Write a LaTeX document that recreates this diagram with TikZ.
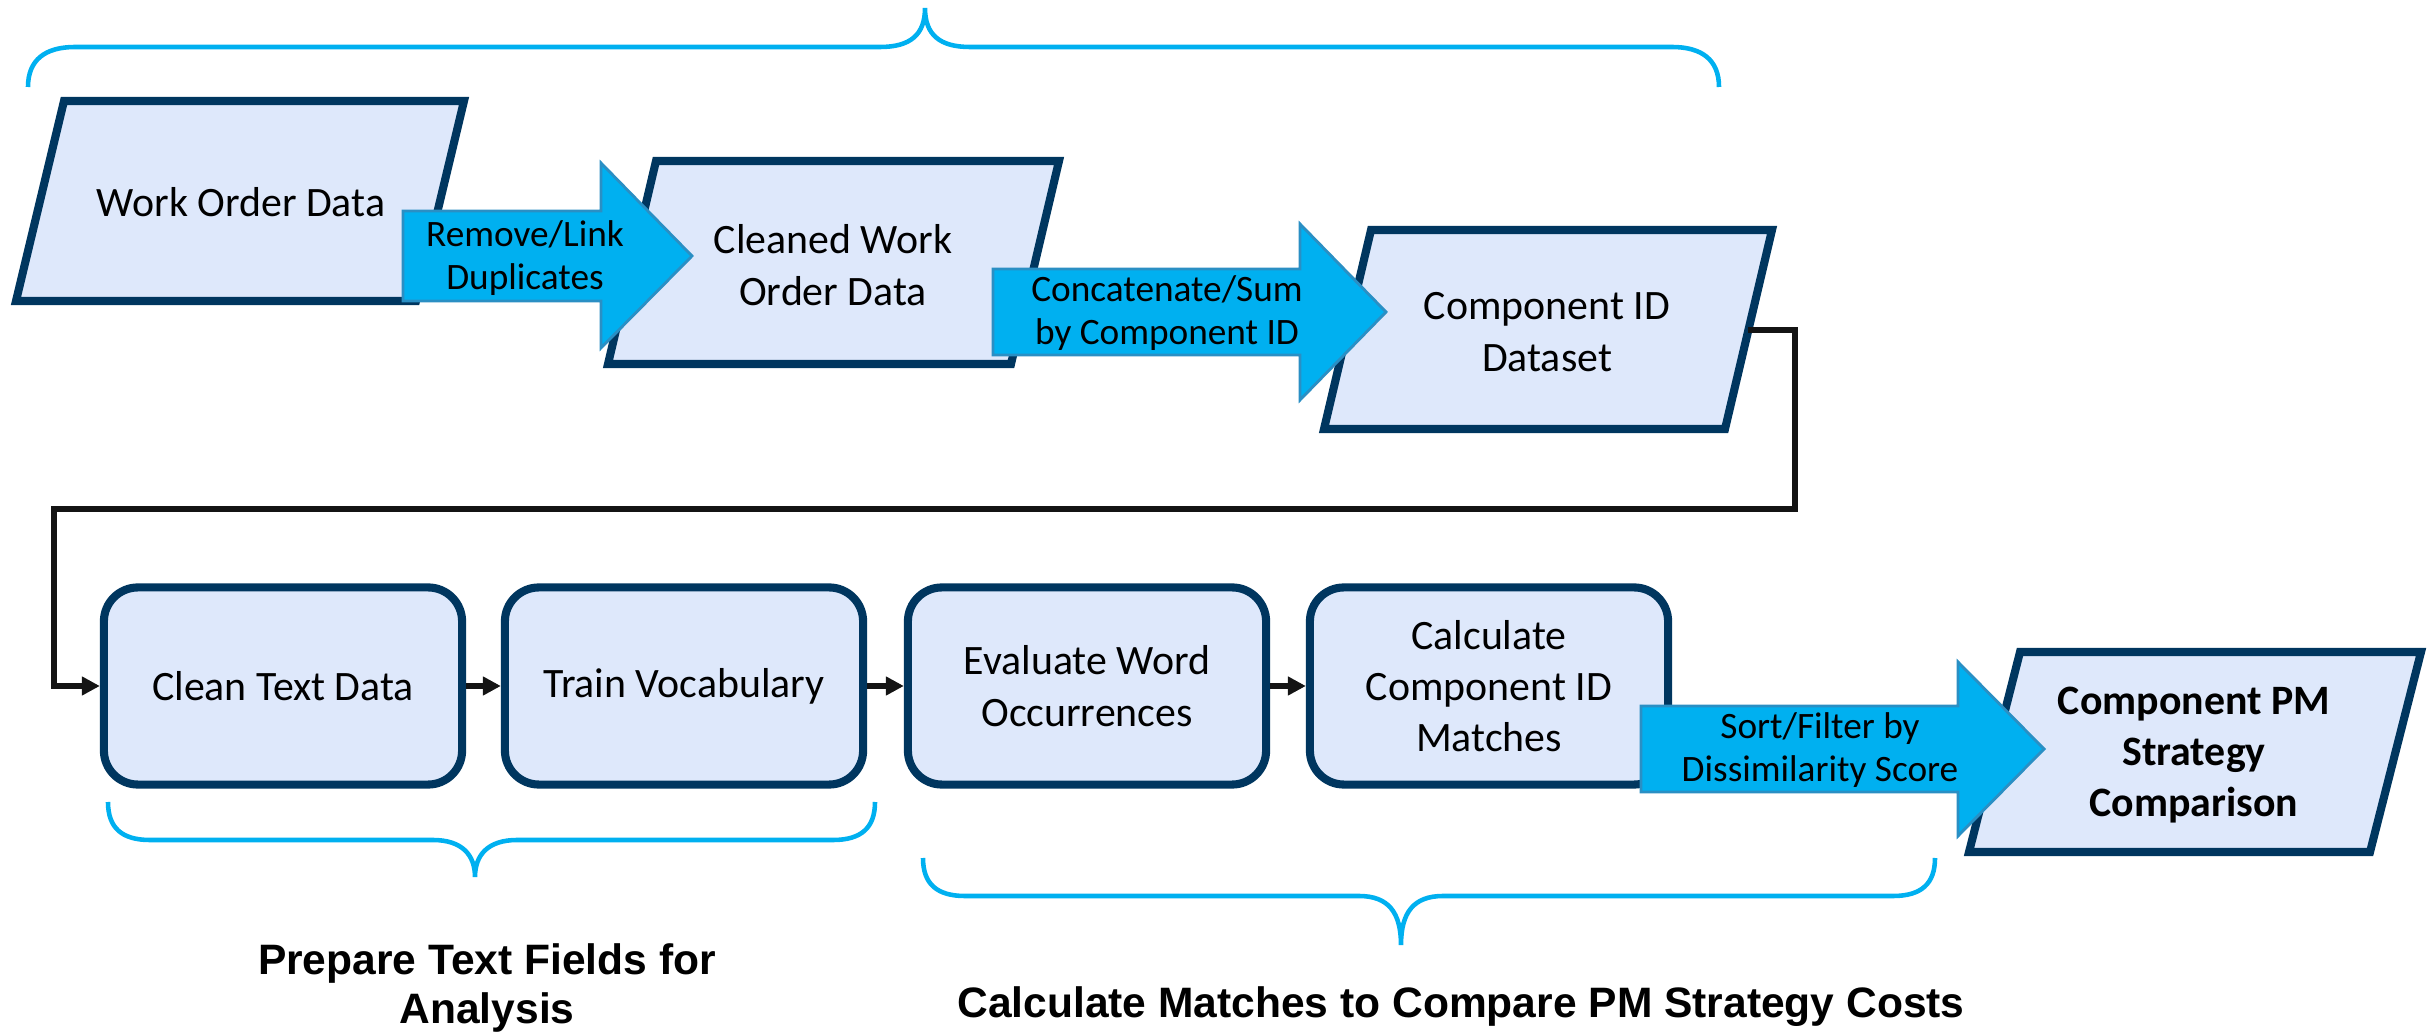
\documentclass[tikz,border=0pt]{standalone}
\usepackage{fontspec}
\setmainfont{Carlito}
\newfontfamily\lblfont{Liberation Sans}
\usetikzlibrary{arrows.meta}
\definecolor{boxfill}{HTML}{DEE8FB}
\definecolor{boxline}{HTML}{00365F}
\definecolor{arrfill}{HTML}{00B0F0}
\definecolor{arrline}{HTML}{2A8FC4}
\definecolor{bracecol}{HTML}{00B0F0}
\tikzset{
  databox/.style={fill=boxfill, draw=boxline, line width=2.3pt, line join=miter},
  procbox/.style={rectangle, rounded corners=0.34cm, fill=boxfill, draw=boxline, line width=2.3pt,
    minimum width=3.58cm, minimum height=1.97cm, inner sep=0pt, align=center,
    font={\fontsize{11.9}{14.6}\selectfont}},
  boxtext/.style={align=center, inner sep=0pt, font={\fontsize{11.9}{14.6}\selectfont}},
  arrtext/.style={align=center, inner sep=0pt, font={\fontsize{10.6}{12.4}\selectfont}},
  blockarrow/.style={fill=arrfill, draw=arrline, line width=0.8pt, line join=miter},
  flowline/.style={draw=black!92, line width=1.55pt, -{Triangle[length=0.18cm,width=0.18cm]}},
  bracestyle/.style={draw=bracecol, line width=1.3pt},
  grouplabel/.style={align=center, inner sep=0pt, font={\lblfont\bfseries\fontsize{12.1}{14.2}\selectfont}}
}
\begin{document}
\begin{tikzpicture}[x=0.01cm, y=-0.01cm]
\useasboundingbox (0,0) rectangle (2433,1034);

% top brace
\draw[bracestyle] (28,87) .. controls (28,60) and (45,47) .. (75,47) -- (880,47)
  .. controls (910,47) and (925,35) .. (925,8)
  .. controls (925,35) and (940,47) .. (970,47) -- (1672,47)
  .. controls (1702,47) and (1719,60) .. (1719,87);

% box 1
\draw[databox] (64,101) -- (464,101) -- (416,301) -- (16,301) -- cycle;
\node[boxtext] (wod) at (241,202) {Work Order Data};

% box 2
\draw[databox] (656,161) -- (1059,161) -- (1011,364) -- (608,364) -- cycle;
\node[boxtext] (cwod) at (833,265) {Cleaned Work\\Order Data};

% arrow 1
\draw[blockarrow] (403,211) -- (601,211) -- (601,163) -- (692,256) -- (601,348) -- (601,301) -- (403,301) -- cycle;
\node[arrtext] (a1) at (525,258) {Remove/Link\\Duplicates};

% box 3
\draw[databox] (1371,230) -- (1772,230) -- (1725,429) -- (1324,429) -- cycle;
\node[boxtext] (cid) at (1547,332) {Component ID\\Dataset};
\coordinate (cidout) at (1748,330);

% arrow 2
\draw[blockarrow] (993,269) -- (1300,269) -- (1300,224) -- (1386,312) -- (1300,400) -- (1300,355) -- (993,355) -- cycle;
\node[arrtext] (a2) at (1167,313) {Concatenate/Sum\\by Component ID};

% bottom row
\node[procbox] (b4) at (283,686) {Clean Text Data};
\node[procbox] (b5) at (684,686) {Train Vocabulary};
\node[procbox] (b6) at (1087,686) {Evaluate Word\\Occurrences};
\node[procbox] (b7) at (1489,686) {Calculate\\Component ID\\Matches};

% connector from box 3 to b4
\coordinate (cr1) at (1795,330);
\coordinate (cr2) at (54,509);
\draw[flowline] (cidout) -- (cr1) |- (cr2) |- (b4.west);

\draw[flowline] (b4.east) -- (b5.west);
\draw[flowline] (b5.east) -- (b6.west);
\draw[flowline] (b6.east) -- (b7.west);

% box 8
\draw[databox] (2020,652) -- (2421,652) -- (2370,852) -- (1969,852) -- cycle;
\node[boxtext, font={\bfseries\fontsize{11.9}{14.6}\selectfont}] (pm) at (2194,755) {Component PM\\Strategy\\Comparison};

% arrow 3
\draw[blockarrow] (1641,706) -- (1958,706) -- (1958,662) -- (2044,749) -- (1958,836) -- (1958,792) -- (1641,792) -- cycle;
\node[arrtext] (a3) at (1820,750) {Sort/Filter by\\Dissimilarity Score};

% bottom braces
\draw[bracestyle] (108,802) .. controls (108,828) and (122,840) .. (150,840) -- (433,840)
  .. controls (462,840) and (475,855) .. (475,877)
  .. controls (475,855) and (488,840) .. (517,840) -- (833,840)
  .. controls (861,840) and (875,828) .. (875,802);
\draw[bracestyle] (923,858) .. controls (923,884) and (937,896) .. (965,896) -- (1359,896)
  .. controls (1388,896) and (1401,912) .. (1401,945)
  .. controls (1401,912) and (1414,896) .. (1443,896) -- (1893,896)
  .. controls (1921,896) and (1935,884) .. (1935,858);

% labels
\node[grouplabel] (l1) at (487,988) {Prepare Text Fields for\\Analysis};
\node[grouplabel] (l2) at (1461,1007) {Calculate Matches to Compare PM Strategy Costs};
\end{tikzpicture}
\end{document}
